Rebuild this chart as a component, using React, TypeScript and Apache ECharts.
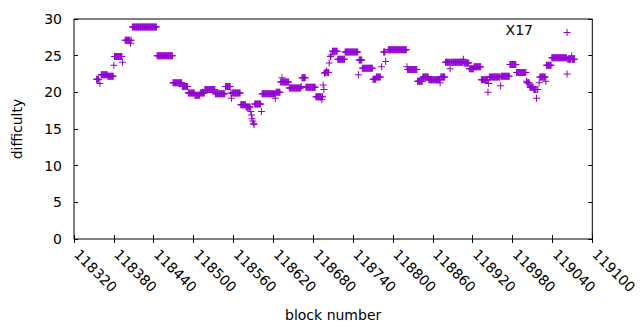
import React, { useEffect, useRef } from "react";
import * as echarts from "echarts";

// Runs of consecutive blocks that share one difficulty value
const runStart = [
  118354, 118361, 118371, 118381, 118397, 118408, 118445, 118469, 118483, 118492,
  118502, 118510, 118517, 118533, 118548, 118556, 118571, 118579, 118592, 118603,
  118624, 118631, 118644, 118663, 118669, 118684, 118698, 118709, 118717, 118728,
  118748, 118754, 118770, 118775, 118786, 118793, 118821, 118837, 118845, 118854,
  118872, 118879, 118907, 118915, 118922, 118933, 118945, 118963, 118976, 118986,
  119001, 119006, 119012, 119021, 119031, 119039, 119063,
];
const runEnd = [
  118357, 118370, 118379, 118392, 118406, 118444, 118468, 118482, 118491, 118501,
  118509, 118516, 118532, 118547, 118555, 118570, 118578, 118585, 118601, 118622,
  118630, 118643, 118661, 118668, 118683, 118694, 118703, 118716, 118727, 118747,
  118753, 118769, 118774, 118781, 118788, 118820, 118836, 118844, 118853, 118870,
  118878, 118906, 118914, 118921, 118932, 118944, 118962, 118975, 118985, 119000,
  119005, 119011, 119018, 119029, 119038, 119061, 119073,
];
const runValue = [
  21.8, 22.4, 22.2, 24.9, 27.1, 28.9, 25.0, 21.3, 20.8, 19.9,
  19.6, 19.9, 20.4, 19.8, 20.8, 19.9, 18.3, 18.0, 18.4, 19.8,
  20.0, 21.4, 20.6, 22.0, 20.7, 19.4, 22.7, 25.6, 24.5, 25.5,
  24.4, 23.3, 21.8, 22.1, 25.5, 25.8, 23.1, 21.5, 22.1, 21.7,
  22.1, 24.1, 24.0, 23.2, 23.5, 21.7, 22.1, 22.2, 23.8, 22.7,
  21.3, 20.7, 20.4, 22.1, 23.7, 24.7, 24.5,
];

// Isolated blocks
const singleBlock = [
  118359, 118380, 118393, 118405, 118557, 118586, 118587, 118588, 118589, 118590,
  118591, 118602, 118623, 118633, 118662, 118693, 118695, 118696, 118697, 118700,
  118704, 118706, 118707, 118748, 118783, 118789, 118821, 118871, 118886, 118906,
  118943, 118944, 118962, 119001, 119016, 119020, 119030, 119062, 119069,
];
const singleValue = [
  21.2, 23.7, 24.1, 26.7, 19.2, 17.4, 16.9, 16.4, 16.1, 15.8,
  15.6, 17.4, 19.2, 22.0, 20.8, 19.0, 21.0, 20.4, 22.6, 22.9,
  24.0, 24.9, 25.1, 22.4, 23.5, 24.2, 23.5, 21.3, 23.2, 24.5,
  20.0, 21.2, 20.9, 21.5, 19.2, 21.3, 21.5, 22.5, 25.0,
];

const seriesName = "X17";
const xMin = 118320;
const xMax = 119100;
const xStep = 60;
const yMin = 0;
const yMax = 30;
const yStep = 5;

const COLOR = "#9400d3";
const FONT = "DejaVu Sans";
const PLUS =
  "path://M-0.5,-3.5L0.5,-3.5L0.5,-0.5L3.5,-0.5L3.5,0.5L0.5,0.5L0.5,3.5L-0.5,3.5L-0.5,0.5L-3.5,0.5L-3.5,-0.5L-0.5,-0.5Z";

function buildData(): [number, number][] {
  const m = new Map<number, number>();
  runStart.forEach((s, i) => {
    for (let b = s; b <= runEnd[i]; b++) m.set(b, runValue[i]);
  });
  singleBlock.forEach((b, i) => m.set(b, singleValue[i]));
  return Array.from(m.entries()).sort((a, b) => a[0] - b[0]);
}

export default function App() {
  const ref = useRef<HTMLDivElement>(null);
  useEffect(() => {
    const chart = echarts.init(ref.current!, null, { renderer: "svg" });
    const tick = { show: true, inside: true, length: 4, lineStyle: { color: "#000", width: 1 } };
    const option: any = {
      animation: false,
      backgroundColor: "#fff",
      textStyle: { fontFamily: FONT },
      grid: {
        left: 74,
        top: 19,
        width: 535,
        height: 220,
        show: true,
        borderColor: "#000",
        borderWidth: 1,
        backgroundColor: "transparent",
      },
      xAxis: [
        {
          type: "value",
          position: "bottom",
          min: xMin,
          max: xMax,
          interval: xStep,
          axisLine: { show: false },
          axisTick: tick,
          splitLine: { show: false },
          axisLabel: {
            rotate: -45,
            margin: 10,
            padding: [0, 0, 0, 4],
            fontFamily: FONT,
            fontSize: 14,
            color: "#000",
            showMinLabel: true,
            showMaxLabel: true,
            formatter: (v: number) => String(v),
          },
          name: "block number",
          nameLocation: "middle",
          nameGap: 69,
          nameTextStyle: { fontFamily: FONT, fontSize: 14, color: "#000" },
        },
        {
          type: "value",
          position: "top",
          min: xMin,
          max: xMax,
          interval: xStep,
          axisLine: { show: false },
          axisTick: tick,
          splitLine: { show: false },
          axisLabel: { show: false },
        },
      ],
      yAxis: [
        {
          type: "value",
          position: "left",
          min: yMin,
          max: yMax,
          interval: yStep,
          axisLine: { show: false },
          axisTick: tick,
          splitLine: { show: false },
          axisLabel: { margin: 12, fontFamily: FONT, fontSize: 14, color: "#000" },
          name: "difficulty",
          nameLocation: "middle",
          nameRotate: 90,
          nameGap: 50,
          nameTextStyle: { fontFamily: FONT, fontSize: 14, color: "#000" },
        },
        {
          type: "value",
          position: "right",
          min: yMin,
          max: yMax,
          interval: yStep,
          axisLine: { show: false },
          axisTick: tick,
          splitLine: { show: false },
          axisLabel: { show: false },
        },
      ],
      series: [
        {
          name: seriesName,
          type: "scatter",
          data: buildData(),
          symbol: PLUS,
          symbolSize: 7,
          itemStyle: { color: COLOR, opacity: 1 },
          emphasis: { disabled: true },
        },
      ],
      graphic: [
        {
          type: "text",
          right: 640 - 533,
          top: 23,
          style: { text: seriesName, font: `14px '${FONT}'`, fill: "#000" },
        },
        {
          type: "line",
          shape: { x1: 563.5, y1: 32.5, x2: 570.5, y2: 32.5 },
          style: { stroke: COLOR, lineWidth: 1 },
        },
        {
          type: "line",
          shape: { x1: 567, y1: 29, x2: 567, y2: 36 },
          style: { stroke: COLOR, lineWidth: 1 },
        },
      ],
    };
    chart.setOption(option);
    return () => chart.dispose();
  }, []);
  return (
    <div
      ref={ref}
      style={{ position: "absolute", left: 0, top: 0, width: 640, height: 330 }}
    />
  );
}
